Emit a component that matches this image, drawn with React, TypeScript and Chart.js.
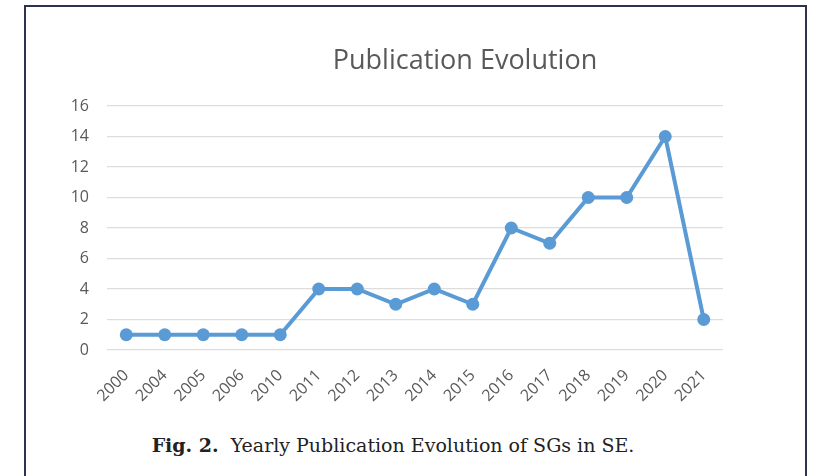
import React, { useEffect, useRef } from "react";
import { Chart, registerables } from "chart.js";

Chart.register(...registerables);

const years = ["2000", "2004", "2005", "2006", "2010", "2011", "2012", "2013", "2014", "2015", "2016", "2017", "2018", "2019", "2020", "2021"];
const publications = [1, 1, 1, 1, 1, 4, 4, 3, 4, 3, 8, 7, 10, 10, 14, 2];
const chartTitle = "Publication Evolution";
const captionLabel = "Fig. 2.";
const captionText = "Yearly Publication Evolution of SGs in SE.";

const GRAY = "#595959";
const BLUE = "#5B9BD5";

export default function App() {
  const canvasRef = useRef<HTMLCanvasElement | null>(null);

  useEffect(() => {
    const canvas = canvasRef.current;
    if (!canvas) return;
    const chart = new Chart(canvas, {
      type: "line",
      data: {
        labels: years,
        datasets: [
          {
            data: publications,
            borderColor: BLUE,
            backgroundColor: BLUE,
            borderWidth: 4,
            pointRadius: 6.5,
            pointBackgroundColor: BLUE,
            pointBorderColor: BLUE,
            pointBorderWidth: 0,
            tension: 0,
          },
        ],
      },
      options: {
        responsive: false,
        animation: false,
        devicePixelRatio: 1,
        layout: { padding: { left: 30, right: 90, top: 106, bottom: 0 } },
        plugins: {
          legend: { display: false },
          tooltip: { enabled: false },
          title: { display: false },
        },
        scales: {
          x: {
            offset: true,
            grid: { display: false },
            border: { display: false },
            ticks: {
              color: GRAY,
              font: { family: "Open Sans", size: 16 },
              minRotation: 45,
              maxRotation: 45,
              autoSkip: false,
              padding: 8,
            },
            afterFit: (scale: any) => {
              scale.height = 70;
            },
          },
          y: {
            min: 0,
            max: 16,
            grid: { color: "#dddddd", lineWidth: 1.3, drawTicks: false },
            border: { display: false },
            ticks: {
              stepSize: 2,
              color: GRAY,
              font: { family: "Open Sans", size: 16 },
              padding: 18,
            },
            afterFit: (scale: any) => {
              scale.width = 77;
            },
          },
        },
      },
    });
    return () => chart.destroy();
  }, []);

  return (
    <div style={{ position: "fixed", left: 0, top: 0, width: 813, height: 476, background: "#fff", overflow: "hidden" }}>
      <div
        style={{
          position: "absolute",
          left: 24,
          top: 5,
          width: 779,
          height: 480,
          borderTop: "2px solid #2b3350",
          borderLeft: "2px solid #2b3350",
          borderRight: "2px solid #2b3350",
        }}
      />
      <canvas ref={canvasRef} width={813} height={420} style={{ position: "absolute", left: 0, top: 0 }} />
      <div
        style={{
          position: "absolute",
          left: 265,
          width: 400,
          top: 45,
          textAlign: "center",
          fontFamily: "Open Sans",
          fontSize: 27,
          lineHeight: "27px",
          color: GRAY,
          whiteSpace: "nowrap",
        }}
      >
        {chartTitle}
      </div>
      <div
        style={{
          position: "absolute",
          left: 0,
          width: 786,
          top: 435,
          textAlign: "center",
          fontFamily: "DejaVu Serif",
          fontSize: 19,
          lineHeight: "20px",
          color: "#222",
          whiteSpace: "nowrap",
        }}
      >
        <b>{captionLabel}</b>
        <span style={{ marginLeft: 12 }}>{captionText}</span>
      </div>
    </div>
  );
}
